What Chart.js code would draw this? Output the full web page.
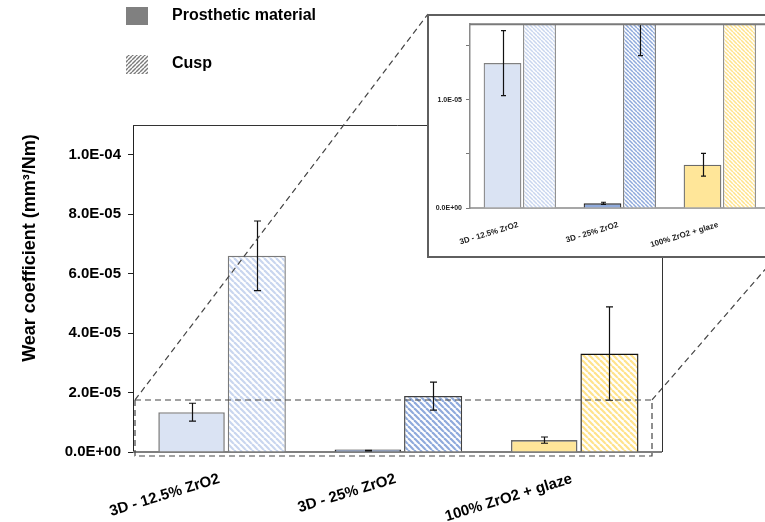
<!DOCTYPE html>
<html><head><meta charset="utf-8">
<script src="https://cdn.jsdelivr.net/npm/chart.js@4/dist/chart.umd.min.js"></script>
<style>
html,body{margin:0;padding:0;background:#fff;overflow:hidden;width:765px;height:522px;}
#main{position:absolute;left:0;top:0;}
#insetWrap{position:absolute;left:427px;top:14px;width:360px;height:244px;border:2px solid #5f5f5f;box-sizing:border-box;background:#fff;overflow:hidden;}
#inset{position:absolute;left:0;top:0;}
</style></head><body>
<canvas id="main" width="765" height="522"></canvas>
<div id="insetWrap"><canvas id="inset" width="356" height="240"></canvas></div>
<script>
// ---- data ----
const categories = ['3D - 12.5% ZrO2', '3D - 25% ZrO2', '100% ZrO2 + glaze'];
const prostheticValues = [1.34e-5, 4.3e-7, 4.0e-6];
const prostheticErrors = [3.0e-6, 1.0e-7, 1.05e-6];
const cuspValues = [6.6e-5, 1.88e-5, 3.31e-5];
const cuspErrors = [1.17e-5, 4.7e-6, 1.57e-5];
const mainTicks = [0, 2e-5, 4e-5, 6e-5, 8e-5, 1e-4];
const insetTicks = [0, 5e-6, 1e-5, 1.5e-5];
const insetLabelledTicks = [0, 1e-5];
const legendLabels = ['Prosthetic material', 'Cusp'];
const yTitle = 'Wear coefficient (mm\u00B3/Nm)';
const zoomMax = 1.75e-5;

// ---- styles ----
const FONT = "'Liberation Sans', Arial, sans-serif";
const mainCtx = document.getElementById('main').getContext('2d');
function hatch(color, size, lw, dir) {
  const c = document.createElement('canvas'); c.width = size; c.height = size;
  const g = c.getContext('2d'); g.fillStyle = '#fff'; g.fillRect(0, 0, size, size);
  g.strokeStyle = color; g.lineWidth = lw;
  for (let k = -1; k <= 1; k++) {
    g.beginPath();
    if (dir === '\\') { g.moveTo(k * size, 0); g.lineTo(k * size + size, size); }
    else { g.moveTo(k * size, size); g.lineTo(k * size + size, 0); }
    g.stroke();
  }
  return mainCtx.createPattern(c, 'repeat');
}
const prosFill = ['#DAE3F3', '#8FAADC', '#FFE699'];
const prosBorder = ['#808080', '#2a2a2a', '#6a6a6a'];
const cuspStripe = ['#C9D6EF', '#8FAADC', '#FFE38C'];
const cuspBorderMain = ['#7a7a7a', '#404040', '#111111'];
const cuspBorderInset = ['#8a8a8a', '#7a7a7a', '#8a8a8a'];
const cuspFillMain = cuspStripe.map(c => hatch(c, 6, 2.2, '\\'));
const cuspFillInset = cuspStripe.map(c => hatch(c, 4, 1.5, '\\'));

function sci(v) {
  if (v === 0) return '0.0E+00';
  const e = Math.floor(Math.log10(Math.abs(v)) + 1e-9);
  const m = v / Math.pow(10, e);
  return m.toFixed(1) + 'E' + (e < 0 ? '-' : '+') + String(Math.abs(e)).padStart(2, '0');
}

// shift the category axis a few px right (groups sit slightly right of centre in the reference)
const shiftX = {
  id: 'shiftX',
  afterLayout(chart, args, opts) {
    const x = chart.scales.x;
    x.left += opts.dx; x.right += opts.dx; x.configure();
  }
};

const axisLine = {
  id: 'axisLine',
  beforeDatasetsDraw(chart, args, opts) {
    const ctx = chart.ctx, a = chart.chartArea;
    ctx.save();
    ctx.strokeStyle = opts.color; ctx.lineWidth = opts.width;
    ctx.beginPath(); ctx.moveTo(a.left, a.bottom); ctx.lineTo(a.right, a.bottom); ctx.stroke();
    ctx.restore();
  }
};

const errorBars = {
  id: 'errorBars',
  afterDatasetsDraw(chart, args, opts) {
    const ctx = chart.ctx, y = chart.scales.y, a = chart.chartArea;
    ctx.save();
    ctx.beginPath(); ctx.rect(a.left, a.top - (opts.clip ? 0 : 100), a.right - a.left, a.bottom - a.top + (opts.clip ? 0 : 100)); ctx.clip();
    ctx.strokeStyle = '#111'; ctx.lineWidth = 1.2;
    chart.data.datasets.forEach((ds, di) => {
      const meta = chart.getDatasetMeta(di);
      meta.data.forEach((bar, i) => {
        const v = ds.data[i], e = ds.errors[i];
        const t = y.getPixelForValue(v + e), b = y.getPixelForValue(v - e), x = Math.round(bar.x) + 0.5, h = opts.cap;
        ctx.beginPath();
        ctx.moveTo(x, t); ctx.lineTo(x, b);
        ctx.moveTo(x - h, t); ctx.lineTo(x + h, t);
        ctx.moveTo(x - h, b); ctx.lineTo(x + h, b);
        ctx.stroke();
      });
    });
    ctx.restore();
  }
};

const mainDecor = {
  id: 'mainDecor',
  afterDraw(chart) {
    const ctx = chart.ctx, a = chart.chartArea, y = chart.scales.y;
    ctx.save();
    // frame top + right
    ctx.strokeStyle = '#333'; ctx.lineWidth = 1;
    ctx.beginPath();
    ctx.moveTo(a.left, a.top + 0.5); ctx.lineTo(a.right + 0.5, a.top + 0.5); ctx.lineTo(a.right + 0.5, a.bottom);
    ctx.stroke();
    // dashed zoom box
    const bx0 = a.left + 2, bx1 = a.right - 10, by0 = y.getPixelForValue(zoomMax), by1 = a.bottom + 4;
    ctx.setLineDash([6, 4]); ctx.strokeStyle = '#444'; ctx.lineWidth = 1.2;
    ctx.strokeRect(bx0, by0, bx1 - bx0, by1 - by0);
    const w = document.getElementById('insetWrap');
    ctx.beginPath();
    ctx.moveTo(bx0, by0); ctx.lineTo(w.offsetLeft + 1, w.offsetTop);
    ctx.moveTo(bx1, by0); ctx.lineTo(w.offsetLeft + w.offsetWidth - 12, w.offsetTop + w.offsetHeight);
    ctx.stroke();
    ctx.setLineDash([]);
    // y title
    ctx.fillStyle = '#000'; ctx.font = 'bold 18px ' + FONT;
    ctx.translate(30, 248); ctx.rotate(-Math.PI / 2);
    ctx.textAlign = 'center'; ctx.textBaseline = 'middle';
    ctx.fillText(yTitle, 0, 0);
    ctx.setTransform(1, 0, 0, 1, 0, 0);
    // legend
    ctx.fillStyle = '#808080'; ctx.fillRect(126, 7, 22, 18);
    ctx.fillStyle = hatch('#7a7a7a', 4, 1.4, '/'); ctx.fillRect(126, 55, 22, 19);
    ctx.fillStyle = '#000'; ctx.font = 'bold 16px ' + FONT; ctx.textAlign = 'left'; ctx.textBaseline = 'middle';
    ctx.fillText(legendLabels[0], 172, 16);
    ctx.fillText(legendLabels[1], 172, 64);
    ctx.restore();
  }
};

const insetDecor = {
  id: 'insetDecor',
  afterDraw(chart) {
    const ctx = chart.ctx, a = chart.chartArea;
    ctx.save();
    ctx.strokeStyle = '#7a7a7a'; ctx.lineWidth = 2;
    ctx.beginPath(); ctx.moveTo(a.left, a.top); ctx.lineTo(a.right + 30, a.top); ctx.stroke();
    ctx.restore();
  }
};

function makeDatasets(inset) {
  return [
    { label: legendLabels[0], data: prostheticValues, errors: prostheticErrors,
      backgroundColor: prosFill, borderColor: prosBorder, borderWidth: inset ? 1.3 : 1.6,
      minBarLength: inset ? 0 : 2.5,
      categoryPercentage: 0.74, barPercentage: 1.02, clip: 0 },
    { label: legendLabels[1], data: cuspValues, errors: cuspErrors,
      backgroundColor: inset ? cuspFillInset : cuspFillMain, borderColor: inset ? cuspBorderInset : cuspBorderMain,
      borderWidth: inset ? 1.3 : 1.4, categoryPercentage: 0.74, barPercentage: 0.89, clip: 0 }
  ];
}

new Chart(document.getElementById('main'), {
  type: 'bar',
  data: { labels: categories, datasets: makeDatasets(false) },
  options: {
    responsive: false, animation: false,
    layout: { padding: { top: 125, right: 103, left: 0, bottom: 0 } },
    plugins: { legend: { display: false }, tooltip: { enabled: false },
      errorBars: { cap: 3.5, clip: false }, shiftX: { dx: 3 }, axisLine: { color: '#7f7f7f', width: 2 } },
    scales: {
      x: {
        grid: { display: false },
        border: { display: false },
        ticks: { color: '#000', font: { family: FONT, weight: 'bold', size: 15 }, minRotation: 17, maxRotation: 17,
          padding: 10, labelOffset: -5, autoSkip: false },
        afterFit(s) { s.height = 70; }
      },
      y: {
        min: 0, max: 1.1e-4,
        afterBuildTicks(s) { s.ticks = mainTicks.map(v => ({ value: v })); },
        grid: { drawOnChartArea: false, drawTicks: true, tickLength: 5, color: '#222' },
        border: { display: true, color: '#222', width: 1 },
        ticks: { color: '#000', font: { family: FONT, weight: 'bold', size: 15 }, padding: 7, callback: v => sci(v) },
        afterFit(s) { s.width = 133; }
      }
    }
  },
  plugins: [shiftX, axisLine, errorBars, mainDecor]
});

new Chart(document.getElementById('inset'), {
  type: 'bar',
  data: { labels: categories, datasets: makeDatasets(true) },
  options: {
    responsive: false, animation: false,
    layout: { padding: { top: 7, right: 15, left: 0, bottom: 0 } },
    plugins: { legend: { display: false }, tooltip: { enabled: false },
      errorBars: { cap: 2.5, clip: true }, shiftX: { dx: 1 }, axisLine: { color: '#8a8a8a', width: 1.5 } },
    scales: {
      x: {
        grid: { display: false },
        border: { display: false },
        ticks: { color: '#222', font: { family: FONT, weight: 'bold', size: 8 }, minRotation: 17, maxRotation: 17,
          padding: 4, labelOffset: -3, autoSkip: false },
        afterFit(s) { s.height = 48; }
      },
      y: {
        min: 0, max: 1.7e-5,
        afterBuildTicks(s) { s.ticks = insetTicks.map(v => ({ value: v })); },
        grid: { drawOnChartArea: false, drawTicks: true, tickLength: 4, color: '#777' },
        border: { display: true, color: '#8a8a8a', width: 1.5 },
        ticks: { color: '#222', font: { family: FONT, weight: 'bold', size: 7 }, padding: 4,
          callback: v => insetLabelledTicks.some(t => Math.abs(t - v) < 1e-9) ? sci(v) : '' },
        afterFit(s) { s.width = 41; }
      }
    }
  },
  plugins: [shiftX, axisLine, errorBars, insetDecor]
});
</script>
</body></html>
